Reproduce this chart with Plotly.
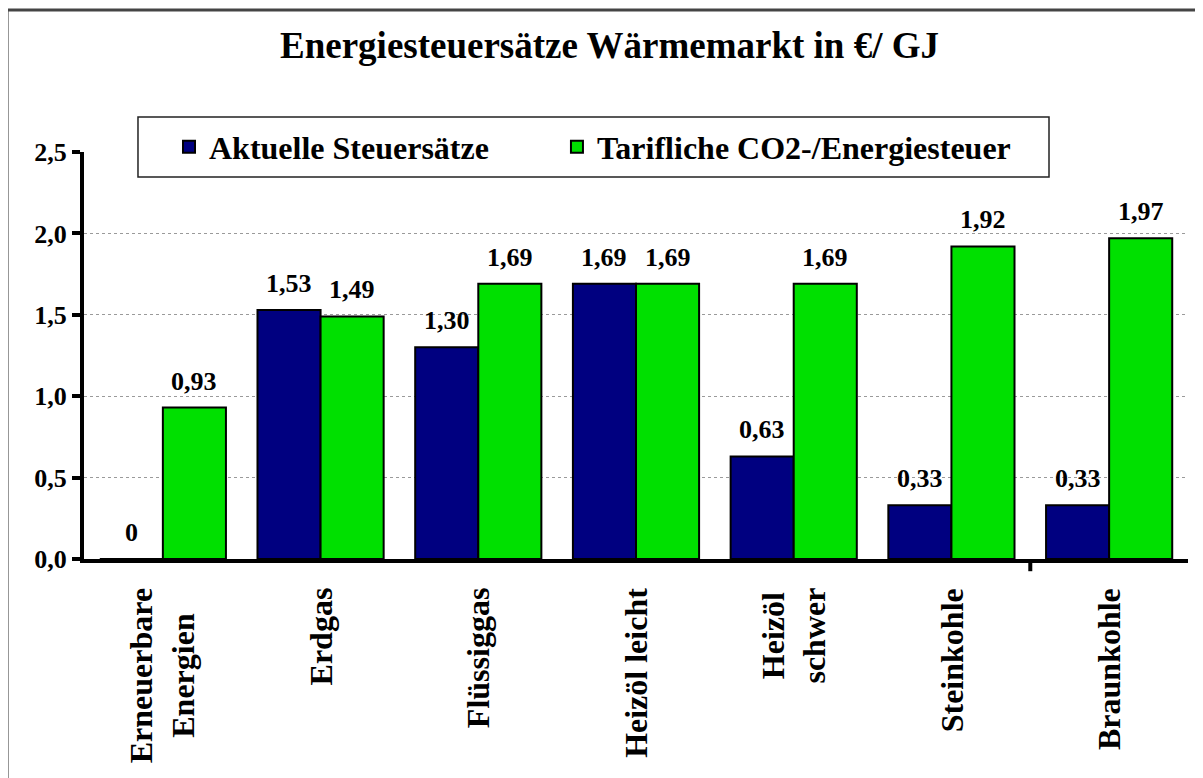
import plotly.graph_objects as go

# data
categories = ["Erneuerbare<br>Energien", "Erdgas", "Flüssiggas", "Heizöl leicht",
              "Heizöl<br>schwer", "Steinkohle", "Braunkohle"]
aktuelle = [0, 1.53, 1.30, 1.69, 0.63, 0.33, 0.33]
tariflich = [0.93, 1.49, 1.69, 1.69, 1.69, 1.92, 1.97]
series_names = ["Aktuelle Steuersätze", "Tarifliche CO2-/Energiesteuer"]
y_ticks = [0, 0.5, 1.0, 1.5, 2.0, 2.5]

FONT = "Liberation Serif, Times New Roman, serif"
BLUE = "#000080"
GREEN = "#00E000"


def fmt(v):
    return "0" if v == 0 else f"{v:.2f}".replace(".", ",")


fig = go.Figure()
for name, vals, color, leg in [(series_names[0], aktuelle, BLUE, "legend"),
                               (series_names[1], tariflich, GREEN, "legend2")]:
    fig.add_trace(go.Bar(
        x=categories, y=vals, name=f"<b>{name}</b>", legend=leg,
        marker=dict(color=color, line=dict(color="black", width=2)),
    ))

# value labels above bars
for i, (a, t) in enumerate(zip(aktuelle, tariflich)):
    for off, v in ((-0.2, a), (0.2, t)):
        fig.add_annotation(x=i + off, y=v, text=f"<b>{fmt(v)}</b>", showarrow=False,
                           yanchor="bottom", yshift=10, font=dict(size=26, color="black"))

# rotated category labels
for i, c in enumerate(categories):
    fig.add_annotation(x=i, y=-0.066, yref="paper", text=f"<b>{c}</b>", showarrow=False,
                       textangle=-90, yanchor="top", xanchor="center", align="center",
                       font=dict(size=32, color="black"))

shapes = [
    # outer frame
    dict(type="rect", xref="paper", yref="paper", x0=-0.0697, x1=1.1, y0=-0.6, y1=1.349,
         line=dict(color="#444", width=3), fillcolor="rgba(0,0,0,0)", layer="below"),
    # legend box
    dict(type="rect", xref="paper", yref="paper", x0=0.0489, x1=0.8741, y0=0.9386, y1=1.086,
         line=dict(color="#222", width=1.5), fillcolor="white", layer="above"),
    # lone x tick between last two categories
    dict(type="line", xref="x", yref="paper", x0=5.5, x1=5.5, y0=0, y1=-0.03,
         line=dict(color="black", width=4)),
]

legend_style = dict(orientation="h", xanchor="left", y=1.0123, yanchor="middle",
                    bgcolor="rgba(0,0,0,0)", borderwidth=0,
                    font=dict(size=32, color="black", family=FONT))

# page body adds an 8px offset, margins are trimmed to compensate
fig.update_layout(
    width=1203, height=778,
    paper_bgcolor="white", plot_bgcolor="white",
    font=dict(family=FONT, color="black"),
    barmode="group", bargap=0.2, bargroupgap=0,
    margin=dict(l=76, r=23, t=144, b=227),
    title=dict(text="<b>Energiesteuersätze Wärmemarkt in €/ GJ</b>", x=0.5, xanchor="center",
               y=0.9524, yanchor="middle", font=dict(size=37, color="black")),
    legend=dict(x=0.077, **legend_style),
    legend2=dict(x=0.4284, **legend_style),
    shapes=shapes,
    showlegend=True,
)
fig.update_xaxes(showticklabels=False, showline=True, linecolor="black", linewidth=4,
                 ticks="", showgrid=False, zeroline=False)
fig.update_yaxes(range=[0, 2.5], tickvals=y_ticks,
                 ticktext=[f"<b>{v:.1f}</b>".replace(".", ",") for v in y_ticks],
                 showline=True, linecolor="black", linewidth=4, ticks="outside", ticklen=8,
                 tickwidth=4, tickcolor="black", showgrid=True, gridcolor="#9a9a9a",
                 griddash="dot", gridwidth=1, zeroline=False,
                 tickfont=dict(size=26, color="black", family=FONT))

fig.write_html("out.html")
